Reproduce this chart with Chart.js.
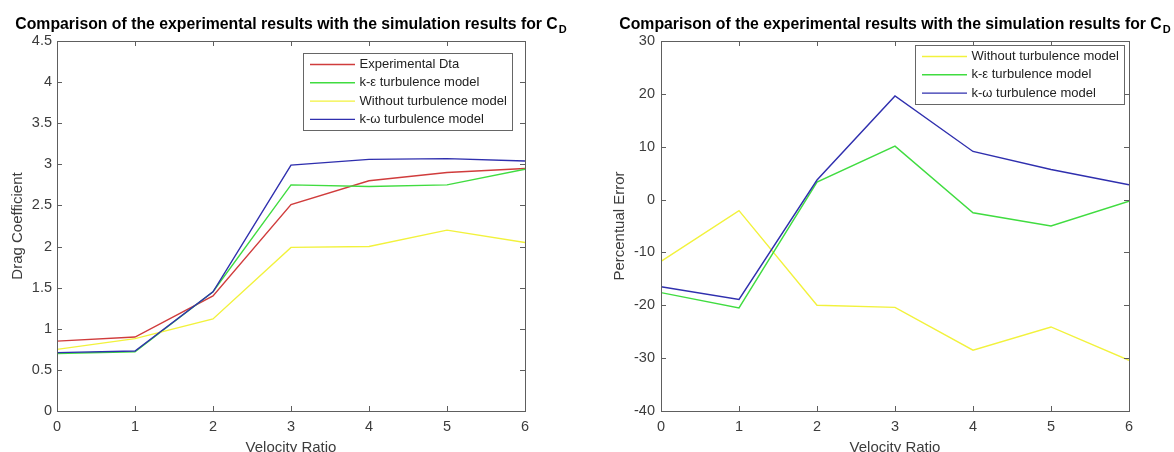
<!DOCTYPE html>
<html>
<head>
<meta charset="utf-8">
<script src="https://cdn.jsdelivr.net/npm/chart.js@4"></script>
<style>
  body { margin: 0; background: #fff; width: 1174px; height: 452px; overflow: hidden; position: relative; }
  canvas { position: absolute; top: 0; }
</style>
</head>
<body>
<canvas id="graficoCD" width="587" height="452" style="left:0"></canvas>
<canvas id="graficoErro" width="587" height="452" style="left:587px"></canvas>
<script>
// ---------------- DADOS ----------------
const razaoVelocidade = [0, 1, 2, 3, 4, 5, 6];

// coeficiente de arrasto
const cdExperimental   = [0.85, 0.90, 1.40, 2.51, 2.80, 2.90, 2.95];
const cdKEpsilon       = [0.70, 0.72, 1.45, 2.75, 2.73, 2.75, 2.94];
const cdSemTurbulencia = [0.75, 0.88, 1.12, 1.99, 2.00, 2.20, 2.05];
const cdKOmega         = [0.71, 0.73, 1.45, 2.99, 3.06, 3.07, 3.04];

// erro percentual
const erroSemTurbulencia = [-11.7, -2.1, -20.0, -20.4, -28.5, -24.1, -30.4];
const erroKEpsilon       = [-17.6, -20.5, 3.3, 10.1, -2.5, -5.0, -0.3];
const erroKOmega         = [-16.5, -18.9, 3.7, 19.6, 9.1, 5.7, 2.8];

const ticksX    = [0, 1, 2, 3, 4, 5, 6];
const ticksCD   = [0, 0.5, 1, 1.5, 2, 2.5, 3, 3.5, 4, 4.5];
const ticksErro = [-40, -30, -20, -10, 0, 10, 20, 30];

const FONTE = "'Liberation Sans', Arial, sans-serif";
const COR_TEXTO = "#3c3c3c";
const COR_EIXO = "#5e5e5e";
const CORES = {
    experimental: "#d03c3c",
    kEpsilon: "#40dc40",
    semTurb: "#f2f23c",
    kOmega: "#2f2fae"
};

// ---------------- PLUGINS ----------------
// caixa completa com marcas de escala para dentro (estilo MATLAB)
const molduraPlugin = {
    id: "moldura",
    afterDatasetsDraw(chart) {
        const { ctx, chartArea: a, scales: { x, y } } = chart;
        ctx.save();
        ctx.strokeStyle = COR_EIXO;
        ctx.lineWidth = 1;
        ctx.strokeRect(a.left + 0.5, a.top + 0.5, a.right - a.left, a.bottom - a.top);
        ctx.beginPath();
        x.ticks.forEach(t => {
            const px = Math.round(x.getPixelForValue(t.value)) + 0.5;
            ctx.moveTo(px, a.bottom); ctx.lineTo(px, a.bottom - 5);
            ctx.moveTo(px, a.top); ctx.lineTo(px, a.top + 5);
        });
        y.ticks.forEach(t => {
            const py = Math.round(y.getPixelForValue(t.value)) + 0.5;
            ctx.moveTo(a.left, py); ctx.lineTo(a.left + 5, py);
            ctx.moveTo(a.right, py); ctx.lineTo(a.right - 5, py);
        });
        ctx.stroke();
        ctx.restore();
    }
};

// legenda dentro da área do gráfico
const legendaPlugin = {
    id: "legendaInterna",
    afterDraw(chart, args, opts) {
        const { ctx, chartArea: a } = chart;
        const n = chart.data.datasets.length;
        const passo = 18.3;
        const w = opts.largura;
        const h = n * passo + 4;
        const x0 = a.right - opts.direita - w;
        const y0 = a.top + opts.topo;
        ctx.save();
        ctx.fillStyle = "#fff";
        ctx.fillRect(x0, y0, w, h);
        ctx.strokeStyle = "#666";
        ctx.lineWidth = 1;
        ctx.strokeRect(Math.round(x0) + 0.5, Math.round(y0) + 0.5, Math.round(w), Math.round(h));
        ctx.font = `13px ${FONTE}`;
        ctx.textBaseline = "middle";
        ctx.fillStyle = "#222";
        chart.data.datasets.forEach((ds, i) => {
            const cy = y0 + 11.5 + i * passo;
            ctx.strokeStyle = ds.borderColor;
            ctx.lineWidth = 1.4;
            ctx.beginPath();
            ctx.moveTo(x0 + 7, cy);
            ctx.lineTo(x0 + 52, cy);
            ctx.stroke();
            ctx.fillText(ds.label, x0 + 56.5, cy);
        });
        ctx.restore();
    }
};

// título com C subscrito D
const tituloPlugin = {
    id: "tituloCD",
    afterDraw(chart) {
        const { ctx, chartArea: a } = chart;
        const texto = "Comparison of the experimental results with the simulation results for C";
        ctx.save();
        ctx.fillStyle = "#000";
        ctx.textBaseline = "alphabetic";
        ctx.font = `bold 15.8px ${FONTE}`;
        const w1 = ctx.measureText(texto).width;
        ctx.font = `bold 11px ${FONTE}`;
        const w2 = ctx.measureText("D").width;
        const x0 = (a.left + a.right) / 2 - (w1 + w2 + 1) / 2;
        ctx.font = `bold 15.8px ${FONTE}`;
        ctx.fillText(texto, x0, 29);
        ctx.font = `bold 11px ${FONTE}`;
        ctx.fillText("D", x0 + w1 + 1, 33);
        ctx.restore();
    }
};

// ---------------- GRÁFICOS ----------------
function serie(label, valores, cor, ordem) {
    return {
        label,
        data: razaoVelocidade.map((v, i) => ({ x: v, y: valores[i] })),
        borderColor: cor,
        borderWidth: 1.4,
        pointRadius: 0,
        tension: 0,
        fill: false,
        order: ordem
    };
}

function criarGrafico(canvasId, cfg) {
    const fonteTicks = { family: FONTE, size: 14.5 };
    const fonteTitulo = { family: FONTE, size: 15 };
    return new Chart(document.getElementById(canvasId), {
        type: "line",
        data: { datasets: cfg.datasets },
        options: {
            responsive: false,
            animation: false,
            devicePixelRatio: 1,
            layout: { padding: { left: 0, top: 41, right: cfg.direita, bottom: 0 } },
            plugins: {
                legend: { display: false },
                tooltip: { enabled: false },
                legendaInterna: cfg.legenda
            },
            scales: {
                x: {
                    type: "linear",
                    min: 0,
                    max: 6,
                    afterBuildTicks: s => { s.ticks = ticksX.map(v => ({ value: v })); },
                    afterFit: s => { s.height = 41; },
                    grid: { display: false, drawTicks: false },
                    border: { display: false },
                    ticks: { padding: 7, font: fonteTicks, color: COR_TEXTO, maxRotation: 0, callback: v => String(v) },
                    title: {
                        display: true, text: "Velocity Ratio", font: fonteTitulo,
                        color: COR_TEXTO, padding: { top: 0, bottom: -5 }
                    }
                },
                y: {
                    type: "linear",
                    min: cfg.yMin,
                    max: cfg.yMax,
                    afterBuildTicks: s => { s.ticks = cfg.yTicks.map(v => ({ value: v })); },
                    afterFit: s => { s.width = cfg.larguraY; },
                    grid: { display: false, drawTicks: false },
                    border: { display: false },
                    ticks: { padding: cfg.padY, font: fonteTicks, color: COR_TEXTO, callback: v => String(v) },
                    title: {
                        display: true, text: cfg.tituloY, font: fonteTitulo,
                        color: COR_TEXTO, padding: { top: cfg.posTituloY, bottom: 0 }
                    }
                }
            }
        },
        plugins: [molduraPlugin, legendaPlugin, tituloPlugin]
    });
}

// ---------------- INIT ----------------
criarGrafico("graficoCD", {
    datasets: [
        serie("Experimental Dta", cdExperimental, CORES.experimental, 4),
        serie("k-\u03b5 turbulence model", cdKEpsilon, CORES.kEpsilon, 3),
        serie("Without turbulence model", cdSemTurbulencia, CORES.semTurb, 2),
        serie("k-\u03c9 turbulence model", cdKOmega, CORES.kOmega, 1)
    ],
    yMin: 0, yMax: 4.5, yTicks: ticksCD,
    larguraY: 57, direita: 62, padY: 5,
    tituloY: "Drag Coefficient", posTituloY: 9,
    legenda: { largura: 209, direita: 13, topo: 12 }
});

criarGrafico("graficoErro", {
    datasets: [
        serie("Without turbulence model", erroSemTurbulencia, CORES.semTurb, 3),
        serie("k-\u03b5 turbulence model", erroKEpsilon, CORES.kEpsilon, 2),
        serie("k-\u03c9 turbulence model", erroKOmega, CORES.kOmega, 1)
    ],
    yMin: -40, yMax: 30, yTicks: ticksErro,
    larguraY: 74, direita: 45, padY: 6,
    tituloY: "Percentual Error", posTituloY: 24,
    legenda: { largura: 209, direita: 5, topo: 4 }
});
</script>
</body>
</html>
